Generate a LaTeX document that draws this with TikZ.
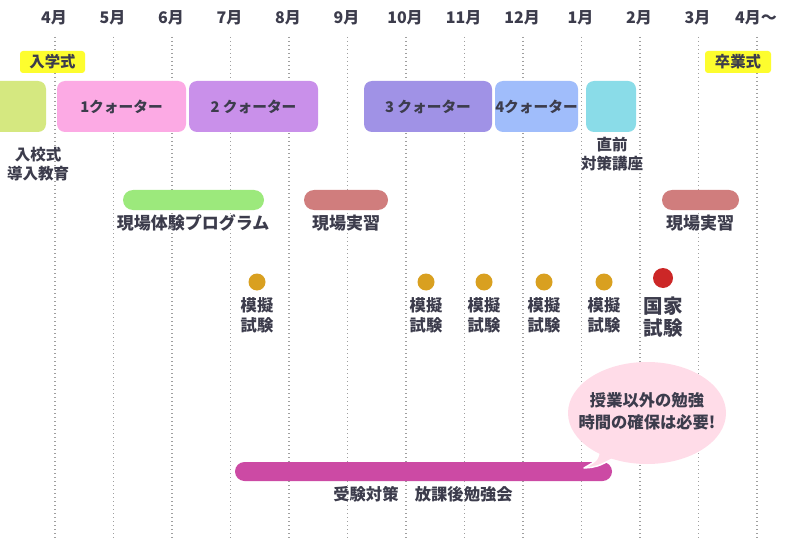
\documentclass[tikz,border=0pt]{standalone}
\usepackage{fontspec}
\setmainfont{Noto Sans CJK JP}
\usetikzlibrary{shapes.geometric}
\definecolor{txt}{HTML}{3C3C4C}
\definecolor{ylw}{HTML}{FDFD2E}
\definecolor{c0}{HTML}{D5E880}
\definecolor{c1}{HTML}{FCAAE4}
\definecolor{c2}{HTML}{C990EA}
\definecolor{c3}{HTML}{A092E6}
\definecolor{c4}{HTML}{A0BDFB}
\definecolor{c5}{HTML}{8ADCE8}
\definecolor{pg}{HTML}{9CE97C}
\definecolor{pr}{HTML}{D07D7D}
\definecolor{gold}{HTML}{D9A020}
\definecolor{rdot}{HTML}{CC2727}
\definecolor{mag}{HTML}{CC4AA4}
\definecolor{bub}{HTML}{FFDCE8}
\begin{document}
\begin{tikzpicture}[x=1pt,y=-1pt,
  every node/.style={text=txt, font=\fontsize{16}{19}\selectfont\bfseries},
  vline/.style={draw=gray!75, line width=1.2pt, dash pattern=on 1.2pt off 2.8pt},
  mon/.style={font=\fontsize{16}{18}\selectfont\bfseries},
  qbox/.style={rounded corners=8pt, minimum height=51pt, inner sep=0pt, font=\fontsize{14.7}{16}\selectfont\bfseries},
  tagbox/.style={fill=ylw, rounded corners=3pt, minimum height=22pt, inner sep=0pt, font=\fontsize{15.4}{16}\selectfont\bfseries},
  pill/.style={rounded corners=10pt, minimum height=20pt, inner sep=0pt},
  lbl/.style={align=center, inner sep=0pt, font=\fontsize{16.3}{20}\selectfont\bfseries},
  exdot/.style={circle, fill=gold, minimum size=17pt, inner sep=0pt},
]
\useasboundingbox (0,0) rectangle (800,540);
\fill[white] (0,0) rectangle (800,540);
% month columns
\foreach \i/\m in {0/4月,1/5月,2/6月,3/7月,4/8月,5/9月,6/10月,7/11月,8/12月,9/1月,10/2月,11/3月,12/4月〜}{
  \node[mon] (m\i) at ({54+58.5*\i},18) {\m};
  \coordinate (t\i) at ({55+58.5*\i},37);
  \coordinate (b\i) at ({55+58.5*\i},540);
  \draw[vline] (t\i) -- (b\i);
}
% ceremonies
\node[tagbox, minimum width=65pt] (nyu) at (52.5,62) {入学式};
\node[tagbox, minimum width=66pt] (sotsu) at (738,62) {卒業式};
% quarters
\node[qbox, fill=c0, minimum width=56pt] (q0) at (18,106.5) {};
\node[qbox, fill=c1, minimum width=129pt] (q1) at (121.5,106.5) {1クォーター};
\node[qbox, fill=c2, minimum width=129pt] (q2) at (253.5,106.5) {2 クォーター};
\node[qbox, fill=c3, minimum width=128pt] (q3) at (428,106.5) {3 クォーター};
\node[qbox, fill=c4, minimum width=83pt] (q4) at (536.5,106.5) {4クォーター};
\node[qbox, fill=c5, minimum width=50pt] (q5) at (611,106.5) {};
\node[lbl, font=\fontsize{15.5}{19}\selectfont\bfseries] (q0l) at (38,164.5) {入校式\\導入教育};
\node[lbl, font=\fontsize{15.5}{19}\selectfont\bfseries] (q5l) at (612,154) {直前\\対策講座};
% field programs
\node[pill, fill=pg, minimum width=141pt] (p1) at (193.5,200) {};
\node[lbl, font=\fontsize{17}{20}\selectfont\bfseries] (p1l) at (193,223) {現場体験プログラム};
\node[pill, fill=pr, minimum width=84pt] (p2) at (346,200) {};
\node[lbl, font=\fontsize{17}{20}\selectfont\bfseries] (p2l) at (346,223) {現場実習};
\node[pill, fill=pr, minimum width=77pt] (p3) at (700.5,200) {};
\node[lbl, font=\fontsize{17}{20}\selectfont\bfseries] (p3l) at (700,223) {現場実習};
% mock exams
\foreach \n/\x in {1/257,2/426,3/484,4/544,5/604}{
  \node[exdot] (e\n) at (\x,282) {};
  \node[lbl] (e\n l) at (\x,315) {模擬\\試験};
}
\node[circle, fill=rdot, minimum size=20pt, inner sep=0pt] (nat) at (663,278) {};
\node[lbl, font=\fontsize{19.5}{22}\selectfont\bfseries] (natl) at (663,317) {国家\\試験};
% study sessions
\node[pill, rounded corners=9.5pt, fill=mag, minimum width=377pt, minimum height=19pt] (st) at (423.5,471.5) {};
\node[lbl] (stl) at (423,494) {受験対策　放課後勉強会};
% bubble
\coordinate (tip) at (584,468);
\path[fill=bub, draw=white, line width=1.5pt, line join=round]
  (600,446) .. controls (598,460) .. (tip) .. controls (597,467) .. (616,457) -- cycle;
\fill[bub] (647,413) ellipse [x radius=79, y radius=51];
\node[lbl, font=\fontsize{16.3}{22}\selectfont\bfseries] (bubble) at (647,411) {授業以外の勉強\\時間の確保は必要!};
\end{tikzpicture}
\end{document}
